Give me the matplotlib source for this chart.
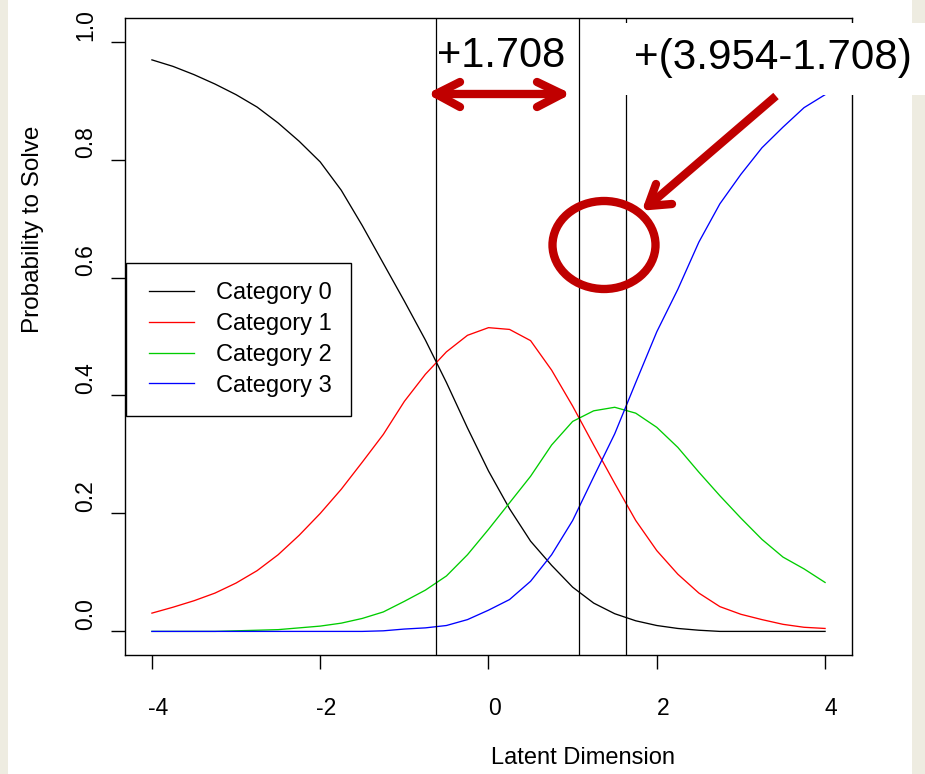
import matplotlib
matplotlib.use("Agg")
import matplotlib.pyplot as plt
from matplotlib.lines import Line2D
from matplotlib.patches import Rectangle, Ellipse
from matplotlib.transforms import Affine2D, ScaledTranslation
from matplotlib.legend_handler import HandlerLine2D

plt.rcParams["font.family"] = ["Liberation Sans", "DejaVu Sans"]

# ---------------- data ----------------
theta = [-4.00, -3.75, -3.50, -3.25, -3.00, -2.75, -2.50, -2.25, -2.00, -1.75,
         -1.50, -1.25, -1.00, -0.75, -0.50, -0.25, 0.00, 0.25, 0.50, 0.75,
         1.00, 1.25, 1.50, 1.75, 2.00, 2.25, 2.50, 2.75, 3.00, 3.25,
         3.50, 3.75, 4.00]
cat0 = [0.969, 0.958, 0.944, 0.928, 0.910, 0.889, 0.862, 0.831, 0.796, 0.748,
        0.688, 0.624, 0.560, 0.494, 0.422, 0.345, 0.272, 0.208, 0.153, 0.112,
        0.075, 0.048, 0.030, 0.018, 0.010, 0.005, 0.002, 0.000, 0.000, 0.000,
        0.000, 0.000, 0.000]
cat1 = [0.031, 0.041, 0.052, 0.065, 0.082, 0.103, 0.130, 0.163, 0.200, 0.241,
        0.287, 0.334, 0.390, 0.436, 0.474, 0.502, 0.515, 0.512, 0.493, 0.443,
        0.382, 0.316, 0.251, 0.188, 0.137, 0.097, 0.065, 0.042, 0.029, 0.020,
        0.012, 0.007, 0.005]
cat2 = [0.000, 0.000, 0.000, 0.000, 0.001, 0.002, 0.003, 0.006, 0.009, 0.014,
        0.022, 0.033, 0.051, 0.070, 0.094, 0.130, 0.173, 0.218, 0.263, 0.316,
        0.356, 0.374, 0.380, 0.370, 0.346, 0.312, 0.270, 0.230, 0.192, 0.156,
        0.126, 0.106, 0.083]
cat3 = [0.000, 0.000, 0.000, 0.000, 0.000, 0.000, 0.000, 0.000, 0.000, 0.000,
        0.000, 0.001, 0.004, 0.006, 0.010, 0.020, 0.036, 0.054, 0.085, 0.130,
        0.188, 0.262, 0.335, 0.422, 0.508, 0.580, 0.660, 0.725, 0.775, 0.820,
        0.855, 0.888, 0.910]
series_labels = ["Category 0", "Category 1", "Category 2", "Category 3"]
series_colors = ["black", "#FF0000", "#00CD00", "#0000FF"]
thresholds = [-0.625, 1.08, 1.63]
x_ticks = [-4, -2, 0, 2, 4]
x_ticklabels = ["-4", "-2", "0", "2", "4"]
y_ticks = [0.0, 0.2, 0.4, 0.6, 0.8, 1.0]
y_ticklabels = ["0.0", "0.2", "0.4", "0.6", "0.8", "1.0"]
annot_left = "+1.708"
annot_right = "+(3.954-1.708)"

# ---------------- figure ----------------
W, H = 925, 774
fig = plt.figure(figsize=(W / 100, H / 100), dpi=100)
fig.patch.set_facecolor("white")
ax = fig.add_axes([125 / W, 1 - 655 / H, (852 - 125) / W, (655 - 18) / H])

for ys, lab, col in zip([cat0, cat1, cat2, cat3], series_labels, series_colors):
    ax.plot(theta, ys, color=col, lw=0.95, label=lab)

for t in thresholds:
    ax.axvline(t, color="black", lw=0.9)

ax.set_xlim(-4.32, 4.32)
ax.set_ylim(-0.04, 1.04)
ax.set_xticks(x_ticks)
ax.set_xticklabels(x_ticklabels)
ax.set_yticks(y_ticks)
ax.set_yticklabels(y_ticklabels, rotation=90, va="center")
for s in ax.spines.values():
    s.set_linewidth(1.0)
    s.set_color("black")
ax.tick_params(axis="both", direction="out", length=10, width=1.0,
               labelsize=16.5, colors="black")
ax.tick_params(axis="x", pad=20)
ax.tick_params(axis="y", pad=10)

ax.set_xlabel("Latent Dimension", fontsize=17)
ax.xaxis.set_label_coords(0.63, -0.145)
ax.set_ylabel("Probability to Solve", fontsize=17.5)
ax.yaxis.set_label_coords(-0.112, 0.669)

leg = ax.legend(loc="upper left", bbox_to_anchor=(126 / W, 1 - 263 / H),
                bbox_transform=fig.transFigure, fontsize=17, frameon=True,
                fancybox=False, shadow=False, framealpha=1, edgecolor="black",
                borderpad=0.82, labelspacing=0.37, handlelength=2.06,
                handletextpad=0.93, borderaxespad=0,
                handler_map={Line2D: HandlerLine2D(xpad=0.16)})
leg.get_frame().set_linewidth(1.0)

# tick label offsets as in the reference
for lab in ax.get_xticklabels():
    lab.set_transform(lab.get_transform() + ScaledTranslation(6 / 100, 0, fig.dpi_scale_trans))
for lab in ax.get_yticklabels():
    lab.set_transform(lab.get_transform() + ScaledTranslation(0, 17 / 100, fig.dpi_scale_trans))

# ---------------- overlay annotations (pixel coordinates from top-left) ----------------
T = Affine2D().scale(1 / W, -1 / H).translate(0, 1) + fig.transFigure
beige = "#EEECE1"
fig.patches.append(Rectangle((0, 0), 8, H, transform=T, facecolor=beige, edgecolor="none", zorder=1))
fig.patches.append(Rectangle((912, 0), 13, H, transform=T, facecolor=beige, edgecolor="none", zorder=1))
fig.patches.append(Rectangle((612, 23), 313, 72, transform=T, facecolor="white", edgecolor="none", zorder=3))

red = "#C00000"
lw_ann = 6.0
def seg(p, q, cap="round"):
    fig.lines.append(Line2D([p[0], q[0]], [p[1], q[1]], transform=T, color=red,
                            lw=lw_ann, solid_capstyle=cap, zorder=5))

# double arrow
seg((436, 94), (562, 94))
seg((436, 94), (460, 82)); seg((436, 94), (460, 107))
seg((562, 94), (537, 82)); seg((562, 94), (537, 107))
# diagonal arrow
seg((776, 96), (648, 206), cap="butt")
seg((648, 206), (656, 184)); seg((648, 206), (672, 204))
# circle
fig.patches.append(Ellipse((604, 245), 103, 88, transform=T, facecolor="none",
                           edgecolor=red, lw=lw_ann, zorder=5))

fig.text(501 / W, 1 - 56 / H, annot_left, fontsize=30, ha="center", va="center", zorder=6)
fig.text(773 / W, 1 - 58 / H, annot_right, fontsize=30.3, ha="center", va="center", zorder=6)

fig.savefig("out.png", dpi=100)
